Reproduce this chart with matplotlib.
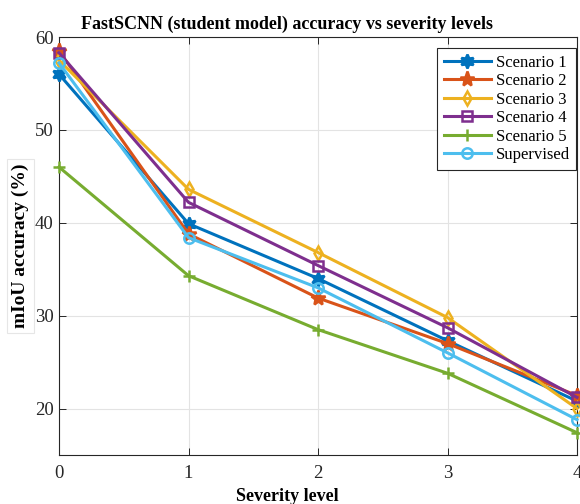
import matplotlib.pyplot as plt
import numpy as np

# severity levels and mIoU values
severity = [0, 1, 2, 3, 4]
scenario1 = [56.0, 39.9, 34.0, 27.3, 20.8]
scenario2 = [58.5, 38.8, 31.9, 27.0, 21.4]
scenario3 = [57.5, 43.6, 36.8, 29.8, 20.0]
scenario4 = [58.3, 42.2, 35.4, 28.7, 21.2]
scenario5 = [46.0, 34.3, 28.5, 23.8, 17.4]
supervised = [57.2, 38.4, 33.0, 26.0, 18.8]

labels = ['Scenario 1', 'Scenario 2', 'Scenario 3', 'Scenario 4', 'Scenario 5', 'Supervised']
series = [scenario1, scenario2, scenario3, scenario4, scenario5, supervised]
colors = ['#0072BD', '#D95319', '#EDB120', '#7E2F8E', '#77AC30', '#4DBEEE']
markers = [(6, 1, 0), '*', 'd', 's', '+', 'o']
msizes = [10, 11, 7, 6.5, 8, 7.5]
filled = [True, True, False, False, False, False]

plt.rcParams['font.family'] = ['Liberation Serif', 'DejaVu Serif']

fig = plt.figure(figsize=(5.8, 5.04), dpi=100)
ax = fig.add_axes([59 / 580, 49 / 504, 518 / 580, 418 / 504])

for y, lab, c, m, ms, f in zip(series, labels, colors, markers, msizes, filled):
    ax.plot(severity, y, color=c, lw=2.2, marker=m, ms=ms,
            mfc=c if f else 'none', mec=c, mew=1.8, label=lab,
            clip_on=False, zorder=3)

ax.set_xlim(0, 4)
ax.set_ylim(15, 60)
ax.set_xticks(severity)
ax.set_yticks([20, 30, 40, 50, 60])
ax.grid(True, color='#e3e3e3', lw=0.8)
ax.set_axisbelow(True)
ax.tick_params(direction='in', length=5, width=0.7, colors='#262626',
               labelsize=13.5, top=True, right=True)
ax.tick_params(axis='x', pad=7)
ax.tick_params(axis='y', pad=4)
for s in ax.spines.values():
    s.set_color('#262626')
    s.set_linewidth(0.8)

ax.set_title('FastSCNN (student model) accuracy vs severity levels',
             fontsize=13, fontweight='bold', x=0.44, y=1.0, pad=6)
ax.set_xlabel('Severity level', fontsize=13, fontweight='bold')
ax.xaxis.set_label_coords(0.44, -0.078)
ax.set_ylabel('mIoU accuracy (%)', fontsize=14, fontweight='bold',
              bbox=dict(boxstyle='square,pad=0.25', facecolor='white',
                        edgecolor='#e6e6e6', lw=0.8))
ax.yaxis.set_label_coords(-0.058, 0.5)

leg = ax.legend(loc='upper right', bbox_to_anchor=(0.999, 0.974),
                borderaxespad=0, fontsize=12, fancybox=False,
                edgecolor='#262626', framealpha=1, handlelength=2.8,
                labelspacing=0.15, borderpad=0.4, handletextpad=0.3)
leg.get_frame().set_linewidth(0.8)

fig.savefig('out.png', dpi=100)
